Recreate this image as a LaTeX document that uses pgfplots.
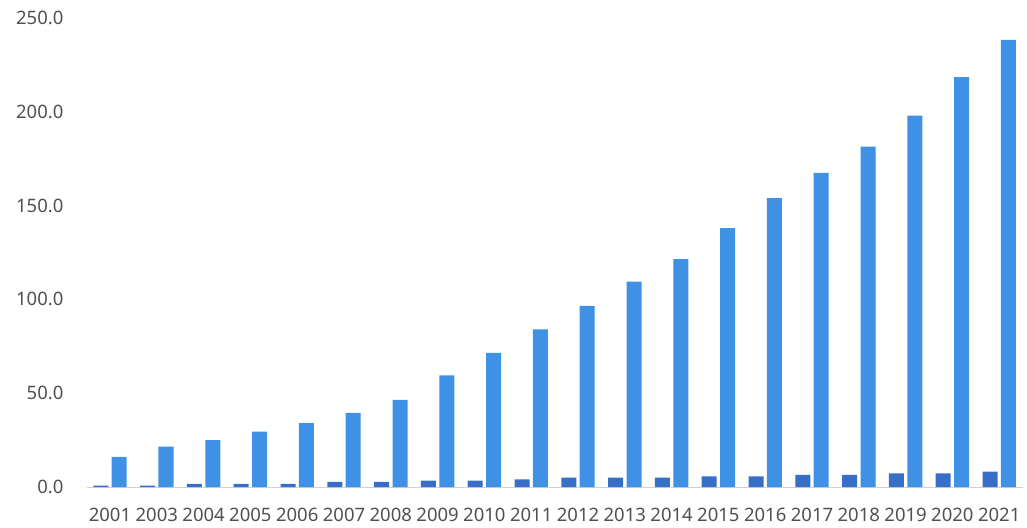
\documentclass[border=0pt]{standalone}
\usepackage{fontspec}
\setmainfont{Noto Sans}
\usepackage{pgfplots}
\pgfplotsset{compat=1.18}
\definecolor{tallblue}{RGB}{62,145,228}
\definecolor{smallblue}{RGB}{54,110,200}
\definecolor{lbl}{RGB}{80,80,80}
\begin{document}
\begin{tikzpicture}
\useasboundingbox (-86.6pt,-40pt) rectangle (940.4pt,487pt);
\begin{axis}[
  scale only axis,
  width=936pt, height=469pt,
  xmin=-0.5, xmax=19.5,
  ymin=0, ymax=250,
  xtick={0,...,19},
  xticklabels={2001,2003,2004,2005,2006,2007,2008,2009,2010,2011,2012,2013,2014,2015,2016,2017,2018,2019,2020,2021},
  ytick={0,50,100,150,200,250},
  yticklabel={\pgfmathprintnumber[fixed,fixed zerofill,precision=1]{\tick}},
  /pgf/number format/assume math mode=true,
  axis x line*=bottom, axis y line*=left,
  y axis line style={draw=none},
  x axis line style={draw=black!18, line width=1pt},
  tick style={draw=none},
  ticklabel style={font=\fontsize{18.5}{20}\selectfont, text=lbl},
  yticklabel style={anchor=east, inner sep=0pt, xshift=-23pt},
  xticklabel style={anchor=north, inner sep=0pt, yshift=-16.5pt},
  ybar, bar width=15pt,
  clip=false,
]
\addplot[draw=none, fill=smallblue, bar shift=-9.2pt] coordinates {
(0,0.8) (1,0.8) (2,1.7) (3,1.7) (4,1.7) (5,2.7) (6,2.7) (7,3.4) (8,3.4) (9,4.1)
(10,5.0) (11,5.0) (12,5.0) (13,5.7) (14,5.7) (15,6.4) (16,6.4) (17,7.3) (18,7.3) (19,8.2)};
\addplot[draw=none, fill=tallblue, bar shift=9.2pt] coordinates {
(0,16) (1,21.5) (2,25) (3,29.5) (4,34) (5,39.5) (6,46.5) (7,59.5) (8,71.5) (9,84)
(10,96.5) (11,109.5) (12,121.5) (13,138) (14,154) (15,167.5) (16,181.5) (17,198) (18,218.5) (19,238.3)};
\end{axis}
\end{tikzpicture}
\end{document}
